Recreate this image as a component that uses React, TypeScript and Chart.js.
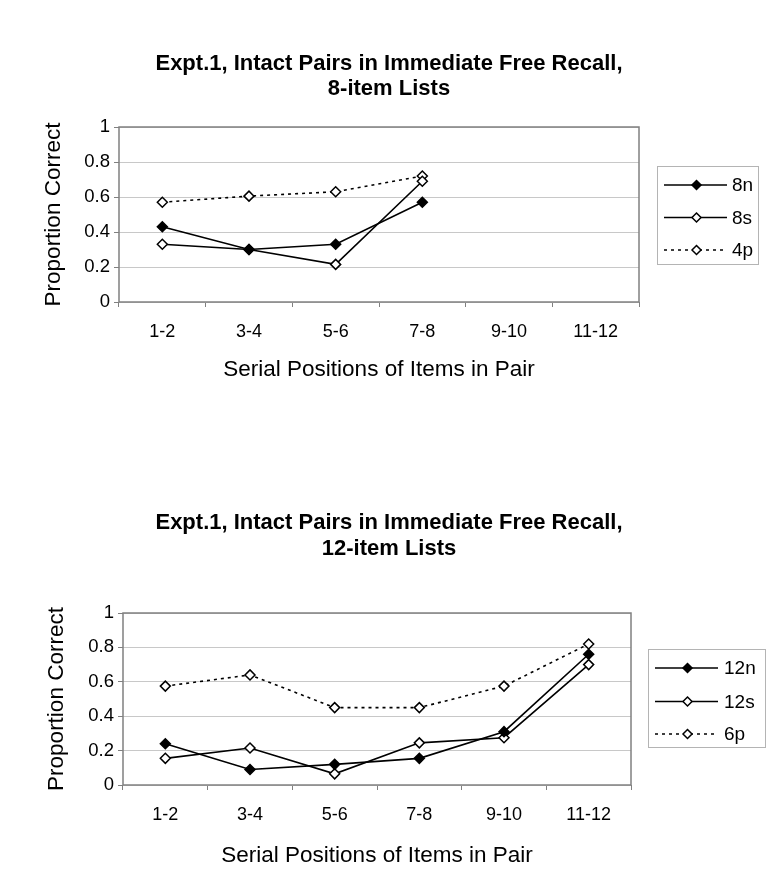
import React, { useEffect, useRef } from "react";
import { Chart, registerables } from "chart.js";

Chart.register(...registerables);

// ---------- data ----------
const categories = ["1-2", "3-4", "5-6", "7-8", "9-10", "11-12"];
const yTicks = [0, 0.2, 0.4, 0.6, 0.8, 1];

const topTitle = ["Expt.1, Intact Pairs in Immediate Free Recall,", "8-item Lists"];
const bottomTitle = ["Expt.1, Intact Pairs in Immediate Free Recall,", "12-item Lists"];
const xAxisTitle = "Serial Positions of Items in Pair";
const yAxisTitle = "Proportion Correct";

const topLabels = ["8n", "8s", "4p"];
const top8n = [0.43, 0.3, 0.33, 0.57, null, null];
const top8s = [0.33, 0.3, 0.215, 0.69, null, null];
const top4p = [0.57, 0.605, 0.63, 0.72, null, null];

const bottomLabels = ["12n", "12s", "6p"];
const bottom12n = [0.24, 0.09, 0.12, 0.155, 0.31, 0.76];
const bottom12s = [0.155, 0.215, 0.065, 0.245, 0.275, 0.7];
const bottom6p = [0.575, 0.64, 0.45, 0.45, 0.575, 0.82];

// ---------- styling helpers ----------
const FONT = "'Liberation Sans', Arial, sans-serif";

function seriesStyle(kind: "n" | "s" | "p") {
  return {
    borderColor: "#000000",
    borderWidth: 1.6,
    borderDash: kind === "p" ? [3, 4] : [],
    pointStyle: "rectRot",
    pointRadius: 5,
    pointHoverRadius: 5,
    pointBorderWidth: 1.5,
    pointBorderColor: "#000000",
    pointBackgroundColor: kind === "n" ? "#000000" : "#ffffff",
    fill: false,
    tension: 0,
    spanGaps: false,
  };
}

const plotFrame = {
  id: "plotFrame",
  beforeDatasetsDraw(chart: any) {
    const { ctx, chartArea } = chart;
    ctx.save();
    ctx.strokeStyle = "#808080";
    ctx.lineWidth = 1.5;
    ctx.strokeRect(chartArea.left, chartArea.top, chartArea.right - chartArea.left, chartArea.bottom - chartArea.top);
    ctx.restore();
  },
};

const centeredTitle = {
  id: "centeredTitle",
  afterDraw(chart: any, _args: any, opts: any) {
    const { ctx } = chart;
    ctx.save();
    ctx.fillStyle = "#000000";
    ctx.font = `bold 22px ${FONT}`;
    ctx.textAlign = "center";
    ctx.textBaseline = "middle";
    (opts.lines as string[]).forEach((line, i) => {
      ctx.fillText(line, opts.cx, opts.ys[i]);
    });
    ctx.restore();
  },
};

const excelLegend = {
  id: "excelLegend",
  afterDraw(chart: any, _args: any, opts: any) {
    const { ctx } = chart;
    const { x, y, w, h, rows, lineX0, lineX1, markX, textX } = opts;
    ctx.save();
    ctx.strokeStyle = "#b4b4b4";
    ctx.lineWidth = 1;
    ctx.strokeRect(x + 0.5, y + 0.5, w, h);
    chart.data.datasets.forEach((ds: any, i: number) => {
      const ry = y + rows[i];
      ctx.strokeStyle = "#000000";
      ctx.lineWidth = 1.6;
      ctx.setLineDash(ds.borderDash || []);
      ctx.beginPath();
      ctx.moveTo(x + lineX0, ry);
      ctx.lineTo(x + lineX1, ry);
      ctx.stroke();
      ctx.setLineDash([]);
      const r = 4.5;
      const cx = x + markX;
      ctx.beginPath();
      ctx.moveTo(cx, ry - r);
      ctx.lineTo(cx + r, ry);
      ctx.lineTo(cx, ry + r);
      ctx.lineTo(cx - r, ry);
      ctx.closePath();
      ctx.fillStyle = ds.pointBackgroundColor;
      ctx.fill();
      ctx.lineWidth = 1.5;
      ctx.stroke();
      ctx.fillStyle = "#000000";
      ctx.font = `19px ${FONT}`;
      ctx.textAlign = "left";
      ctx.textBaseline = "middle";
      ctx.fillText(ds.label, x + textX, ry + 1);
    });
    ctx.restore();
  },
};

type PanelParams = {
  title: string[];
  titleYs: number[];
  labels: string[];
  series: (number | null)[][];
  padTop: number;
  yWidth: number;
  yTitlePad: number;
  padRight: number;
  padBottom: number;
  xTitlePadBottom: number;
  legend: any;
};

function makeConfig(p: PanelParams): any {
  const kinds: ("n" | "s" | "p")[] = ["n", "s", "p"];
  return {
    type: "line",
    data: {
      labels: categories,
      datasets: p.series.map((data, i) => ({
        label: p.labels[i],
        data,
        ...seriesStyle(kinds[i]),
      })),
    },
    options: {
      responsive: false,
      animation: false,
      devicePixelRatio: 1,
      layout: { padding: { left: 0, top: p.padTop, right: p.padRight, bottom: p.padBottom } },
      plugins: {
        legend: { display: false },
        tooltip: { enabled: false },
        title: { display: false },
        centeredTitle: { lines: p.title, ys: p.titleYs, cx: 389 },
        excelLegend: p.legend,
      },
      scales: {
        x: {
          type: "category",
          offset: true,
          afterFit: (s: any) => {
            s.height = 90;
          },
          grid: {
            offset: true,
            drawOnChartArea: false,
            drawTicks: true,
            tickLength: 5,
            color: "#808080",
            tickColor: "#808080",
            lineWidth: 1,
          },
          border: { display: false },
          ticks: {
            color: "#000000",
            font: { family: FONT, size: 18 },
            padding: 14,
            maxRotation: 0,
            autoSkip: false,
          },
          title: {
            display: true,
            text: xAxisTitle,
            color: "#000000",
            font: { family: FONT, size: 22.5 },
            padding: { top: 0, bottom: p.xTitlePadBottom },
          },
        },
        y: {
          min: 0,
          max: 1,
          afterFit: (s: any) => {
            s.width = p.yWidth;
          },
          afterBuildTicks: (s: any) => {
            s.ticks = yTicks.map((v) => ({ value: v }));
          },
          grid: {
            color: "#c8c8c8",
            tickColor: "#808080",
            drawTicks: true,
            tickLength: 5,
            lineWidth: 1,
          },
          border: { display: false },
          ticks: {
            color: "#000000",
            font: { family: FONT, size: 18.5 },
            padding: 4,
            callback: (v: any) => String(Math.round(Number(v) * 10) / 10),
          },
          title: {
            display: true,
            text: yAxisTitle,
            color: "#000000",
            font: { family: FONT, size: 22.5 },
            padding: { top: p.yTitlePad, bottom: 0 },
          },
        },
      },
    },
    plugins: [plotFrame, excelLegend, centeredTitle],
  };
}

function ChartPanel({ top, height, params }: { top: number; height: number; params: PanelParams }) {
  const ref = useRef<HTMLCanvasElement>(null);
  useEffect(() => {
    const chart = new Chart(ref.current as HTMLCanvasElement, makeConfig(params));
    return () => chart.destroy();
  }, []);
  return (
    <div style={{ position: "absolute", left: 0, top, width: 776, height }}>
      <canvas ref={ref} width={776} height={height} style={{ display: "block", width: 776, height }} />
    </div>
  );
}

export default function App() {
  const topParams: PanelParams = {
    title: topTitle,
    titleYs: [64, 89],
    labels: topLabels,
    series: [top8n, top8s, top4p],
    padTop: 127,
    yWidth: 119,
    yTitlePad: 40,
    padRight: 137,
    padBottom: 53,
    xTitlePadBottom: 9,
    legend: { x: 657, y: 166, w: 101, h: 98, rows: [19, 51.5, 84], lineX0: 7, lineX1: 70, markX: 39.5, textX: 75 },
  };
  const bottomParams: PanelParams = {
    title: bottomTitle,
    titleYs: [78, 104],
    labels: bottomLabels,
    series: [bottom12n, bottom12s, bottom6p],
    padTop: 168,
    yWidth: 123,
    yTitlePad: 43.5,
    padRight: 145,
    padBottom: 16,
    xTitlePadBottom: 6,
    legend: { x: 648, y: 204, w: 117, h: 98, rows: [19, 52.5, 85], lineX0: 7, lineX1: 70, markX: 39.5, textX: 76 },
  };
  return (
    <div style={{ position: "relative", width: 776, height: 891 }}>
      <div style={{ position: "fixed", left: 0, top: 0, width: 776, height: 891, background: "#ffffff" }}>
        <ChartPanel top={0} height={445} params={topParams} />
        <ChartPanel top={445} height={446} params={bottomParams} />
      </div>
    </div>
  );
}
